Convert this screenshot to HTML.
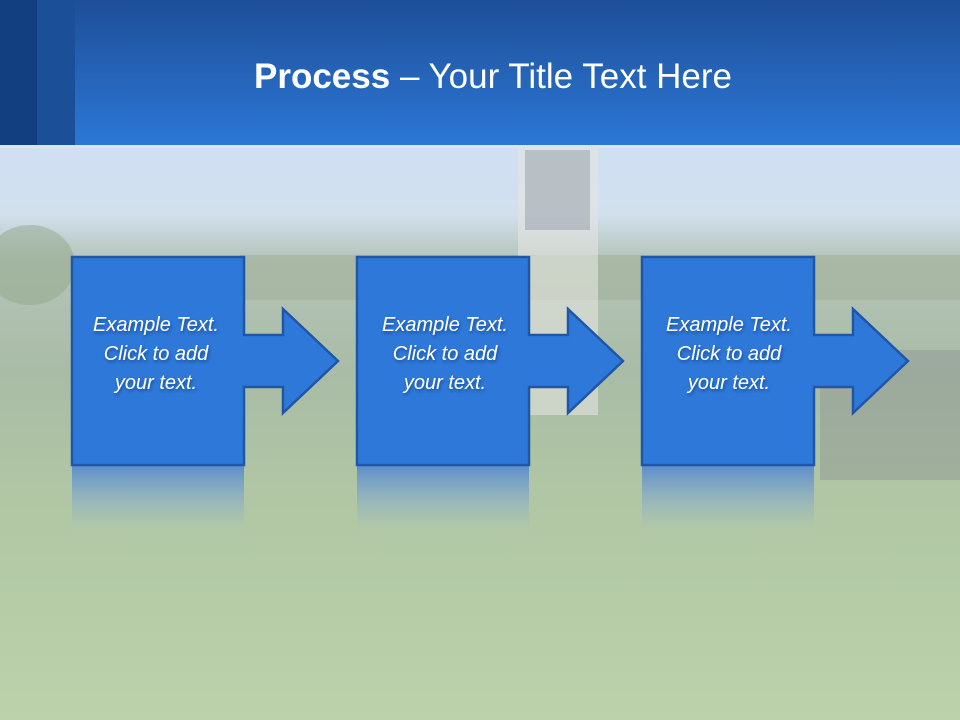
<!DOCTYPE html>
<html><head><meta charset="utf-8"><style>
html,body{margin:0;padding:0;width:960px;height:720px;overflow:hidden}
body{position:relative;font-family:"Liberation Sans",sans-serif}
.t{font-family:"Liberation Sans",sans-serif;font-style:italic;fill:#fff;font-size:20px}
</style></head><body>
<svg width="960" height="720" viewBox="0 0 960 720" xmlns="http://www.w3.org/2000/svg" style="position:absolute;left:0;top:0">
<defs>
<linearGradient id="hd" x1="0" y1="0" x2="0" y2="1"><stop offset="0" stop-color="#1e4f98"/><stop offset="1" stop-color="#2c77d6"/></linearGradient>
<linearGradient id="bg" x1="0" y1="0" x2="0" y2="1">
<stop offset="0" stop-color="#cfe0f3"/><stop offset="0.12" stop-color="#d2e0ee"/>
<stop offset="0.2" stop-color="#b4c3b8"/><stop offset="0.4" stop-color="#a9bca6"/>
<stop offset="0.6" stop-color="#b0c6a4"/><stop offset="1" stop-color="#bbd2ab"/></linearGradient>
<linearGradient id="rf" x1="0" y1="0" x2="0" y2="1"><stop offset="0" stop-color="#4d84d2" stop-opacity="0.85"/><stop offset="1" stop-color="#8fb3de" stop-opacity="0"/></linearGradient>
<filter id="sh"><feDropShadow dx="1" dy="2" stdDeviation="1.5" flood-color="#0a2a60" flood-opacity="0.6"/></filter>
<g id="ar">
<path d="M0,0 H172 V78 H211 V52 L266,104 L211,156 V130 H172 V208 H0 Z" fill="#2e78da" stroke="#1f56a6" stroke-width="2.5" stroke-linejoin="miter"/>
</g>
</defs>
<rect x="0" y="145" width="960" height="575" fill="url(#bg)"/>
<rect x="240" y="255" width="720" height="45" fill="#9eae94" opacity="0.5"/>
<ellipse cx="30" cy="265" rx="45" ry="40" fill="#8fa88a" opacity="0.5"/>
<rect x="518" y="145" width="80" height="270" fill="#e4e4e0" opacity="0.6"/>
<rect x="525" y="150" width="65" height="80" fill="#8b95a0" opacity="0.45"/>
<rect x="820" y="350" width="140" height="130" fill="#8a8f90" opacity="0.4"/>
<rect x="0" y="145" width="960" height="3" fill="#d7e5f5"/>
<rect x="0" y="0" width="960" height="145" fill="url(#hd)"/>
<rect x="0" y="0" width="37" height="145" fill="#123f7f"/>
<rect x="37" y="0" width="38" height="145" fill="#1b4f97"/>
<text x="493" y="88" text-anchor="middle" fill="#fff" font-size="35" font-family="Liberation Sans, sans-serif"><tspan font-weight="bold">Process</tspan> – Your Title Text Here</text>
<g>
<rect x="72" y="466" width="172" height="65" fill="url(#rf)"/>
<rect x="357" y="466" width="172" height="65" fill="url(#rf)"/>
<rect x="642" y="466" width="172" height="65" fill="url(#rf)"/>
</g>
<use href="#ar" x="72" y="257"/>
<use href="#ar" x="357" y="257"/>
<use href="#ar" x="642" y="257"/>
<g class="t" filter="url(#sh)" text-anchor="middle">
<text x="156" y="331">Example Text.</text><text x="156" y="360">Click  to add</text><text x="156" y="389">your text.</text>
<text x="445" y="331">Example Text.</text><text x="445" y="360">Click  to add</text><text x="445" y="389">your text.</text>
<text x="729" y="331">Example Text.</text><text x="729" y="360">Click  to add</text><text x="729" y="389">your text.</text>
</g>
</svg>
</body></html>
